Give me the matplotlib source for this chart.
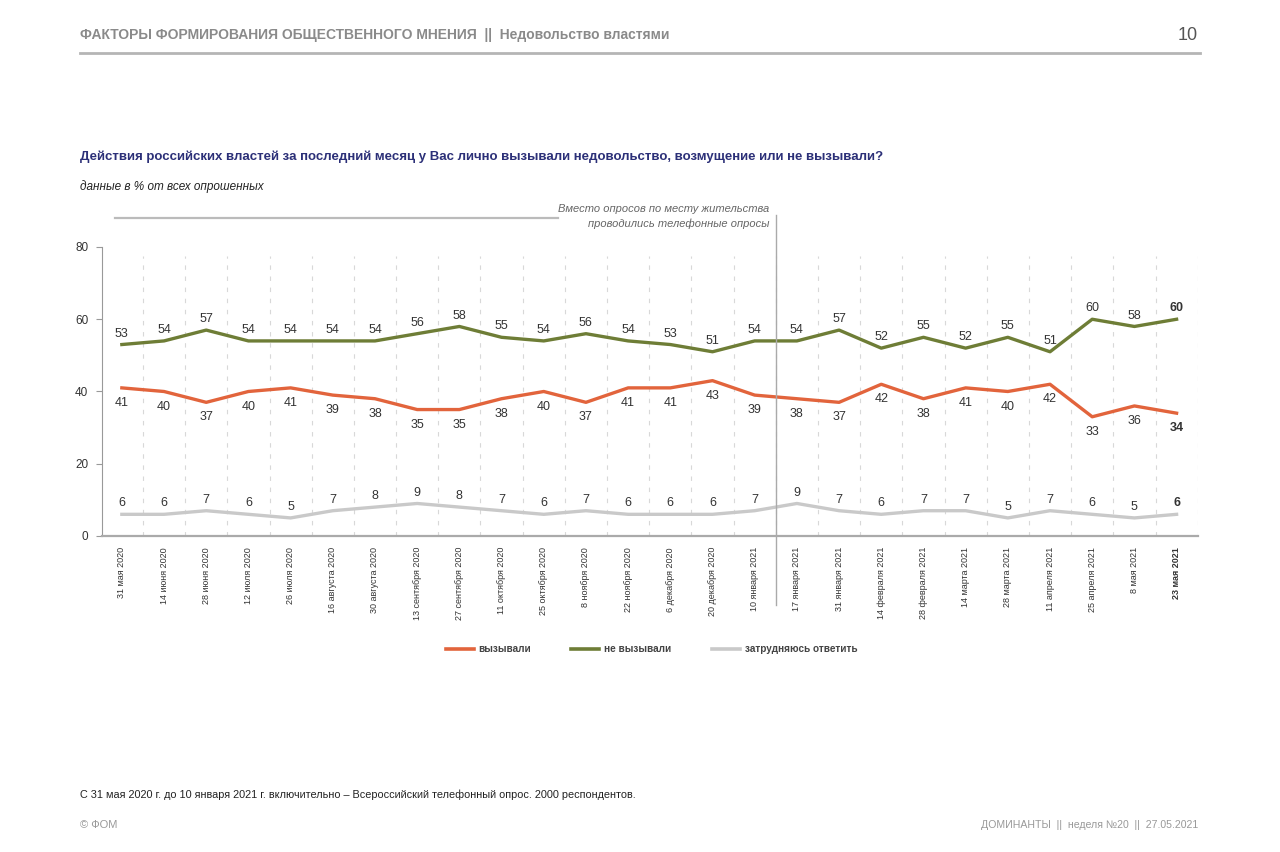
import numpy as np
import matplotlib
matplotlib.use("Agg")
import matplotlib.pyplot as plt
from matplotlib.lines import Line2D

plt.rcParams['font.family'] = ['Liberation Sans', 'DejaVu Sans']

dates = ["31 мая 2020", "14 июня 2020", "28 июня 2020", "12 июля 2020", "26 июля 2020",
         "16 августа 2020", "30 августа 2020", "13 сентября 2020", "27 сентября 2020",
         "11 октября 2020", "25 октября 2020", "8 ноября 2020", "22 ноября 2020",
         "6 декабря 2020", "20 декабря 2020", "10 января 2021", "17 января 2021",
         "31 января 2021", "14 февраля 2021", "28 февраля 2021", "14 марта 2021",
         "28 марта 2021", "11 апреля 2021", "25 апреля 2021", "8 мая 2021", "23 мая 2021"]
ne_vyzyvali = [53, 54, 57, 54, 54, 54, 54, 56, 58, 55, 54, 56, 54, 53, 51, 54,
               54, 57, 52, 55, 52, 55, 51, 60, 58, 60]
vyzyvali = [41, 40, 37, 40, 41, 39, 38, 35, 35, 38, 40, 37, 41, 41, 43, 39,
            38, 37, 42, 38, 41, 40, 42, 33, 36, 34]
zatrudn = [6, 6, 7, 6, 5, 7, 8, 9, 8, 7, 6, 7, 6, 6, 6, 7,
           9, 7, 6, 7, 7, 5, 7, 6, 5, 6]

orange = "#e2643c"
green = "#6e7d36"
grey = "#c9c9c9"
txt = "#333333"

fig = plt.figure(figsize=(12.8, 8.52), dpi=100)
ax = fig.add_axes([0.0797, 0.3709, 0.856, 0.3392])
x = np.arange(len(dates))

# dashed separators between dates
for xv in np.arange(len(dates)) + 0.5:
    ax.axvline(xv, ymin=0, ymax=0.97, color="#d8d8d8", lw=0.8, ls=(0, (4, 6)), zorder=0)

ax.plot(x, zatrudn, color=grey, lw=2.4, solid_joinstyle="round")
ax.plot(x, vyzyvali, color=orange, lw=2.4, solid_joinstyle="round")
ax.plot(x, ne_vyzyvali, color=green, lw=2.4, solid_joinstyle="round")

last = len(dates) - 1
for i in x:
    w = "bold" if i == last else "normal"
    ax.annotate(str(ne_vyzyvali[i]), (i, ne_vyzyvali[i]), xytext=(0, 3.5),
                textcoords="offset points", ha="center", va="bottom",
                fontsize=9, color=txt, fontweight=w)
    ax.annotate(str(vyzyvali[i]), (i, vyzyvali[i]), xytext=(0, -6.5),
                textcoords="offset points", ha="center", va="top",
                fontsize=9, color=txt, fontweight=w)
    ax.annotate(str(zatrudn[i]), (i, zatrudn[i]), xytext=(0, 3.5),
                textcoords="offset points", ha="center", va="bottom",
                fontsize=9, color=txt, fontweight=w)

ax.set_xlim(-0.47, 25.5)
ax.set_ylim(0, 80)
ax.set_yticks([0, 20, 40, 60, 80])
ax.set_xticks(x)
ax.set_xticklabels(dates, rotation=90, fontsize=6.5, color=txt, va="top", ha="center")
ax.get_xticklabels()[-1].set_fontweight("bold")
ax.tick_params(axis="x", length=0, pad=8)
ax.tick_params(axis="y", length=4, color="#999999", labelsize=8.5, labelcolor=txt, pad=6)
for s in ["top", "right"]:
    ax.spines[s].set_visible(False)
ax.spines["left"].set_color("#999999")
ax.spines["bottom"].set_color("#aaaaaa")
ax.spines["bottom"].set_linewidth(1.6)

# phone survey marker
ax.axvline(15.5, ymin=-0.24, ymax=1.11, color="#aaaaaa", lw=1.0, clip_on=False)
ax.plot([-0.17, 10.34], [1.10, 1.10], color="#bbbbbb", lw=1.6,
        transform=ax.get_xaxis_transform(), clip_on=False)
ax.text(15.35, 1.105, "Вместо опросов по месту жительства\nпроводились телефонные опросы",
        transform=ax.get_xaxis_transform(), ha="right", va="center", fontsize=8,
        style="italic", color="#666666", linespacing=1.5)

# legend
handles = [Line2D([], [], color=orange, lw=2.6),
           Line2D([], [], color=green, lw=2.6),
           Line2D([], [], color=grey, lw=2.6)]
leg = fig.legend(handles, ["вызывали", "не вызывали", "затрудняюсь ответить"],
                 loc="center", bbox_to_anchor=(0.509, 1 - 649 / 852), ncol=3,
                 frameon=False, fontsize=7.2, handlelength=2.8, columnspacing=4.0,
                 handletextpad=0.5)
for t in leg.get_texts():
    t.set_color("#444444")
    t.set_fontweight("bold")

# header
fig.text(80 / 1280, 1 - 35 / 852,
         "ФАКТОРЫ ФОРМИРОВАНИЯ ОБЩЕСТВЕННОГО МНЕНИЯ  ||  Недовольство властями",
         ha="left", va="center", fontsize=10, color="#8a8a8a", fontweight="bold")
fig.text(1198 / 1280, 1 - 35 / 852, "10", ha="right", va="center", fontsize=13, color="#555555")
fig.add_artist(Line2D([80 / 1280, 1200 / 1280], [1 - 53 / 852, 1 - 53 / 852],
                      color="#b5b5b5", lw=2))

fig.text(80 / 1280, 1 - 157 / 852,
         "Действия российских властей за последний месяц у Вас лично вызывали недовольство, возмущение или не вызывали?",
         ha="left", va="center", fontsize=9.5, color="#2c3078", fontweight="bold")
fig.text(80 / 1280, 1 - 187 / 852, "данные в % от всех опрошенных",
         ha="left", va="center", fontsize=8.5, color="#222222", style="italic")

# footer
fig.text(80 / 1280, 1 - 795 / 852,
         "С 31 мая 2020 г. до 10 января 2021 г. включительно – Всероссийский телефонный опрос. 2000 респондентов.",
         ha="left", va="center", fontsize=7.8, color="#222222")
fig.text(80 / 1280, 1 - 825 / 852, "© ФОМ", ha="left", va="center", fontsize=8, color="#999999")
fig.text(1198 / 1280, 1 - 825 / 852, "ДОМИНАНТЫ  ||  неделя №20  ||  27.05.2021",
         ha="right", va="center", fontsize=7.6, color="#999999")

fig.savefig("out.png", dpi=100, facecolor="white")
